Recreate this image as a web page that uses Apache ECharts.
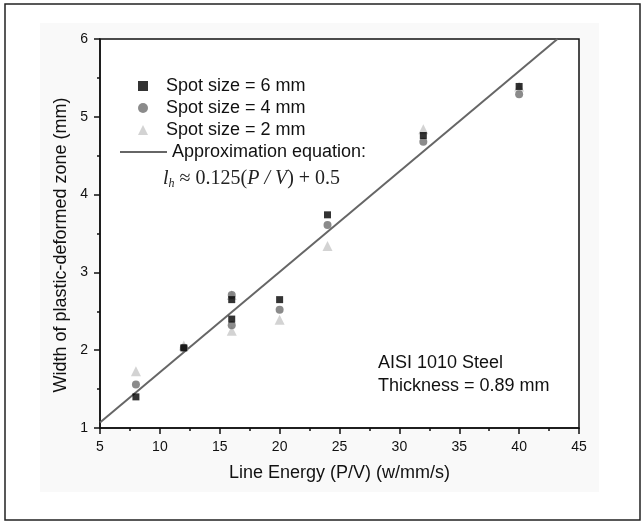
<!DOCTYPE html>
<html>
<head>
<meta charset="utf-8">
<script src="https://cdn.jsdelivr.net/npm/echarts@6/dist/echarts.min.js"></script>
<style>html,body{margin:0;padding:0;background:#fff;}#c{width:642px;height:522px;}</style>
</head>
<body>
<div id="c"></div>
<script>
const xValues = [8, 12, 16, 16, 20, 24, 32, 40];
const spot6 = [1.40, 2.03, 2.40, 2.65, 2.65, 3.74, 4.76, 5.39];
const spot4 = [1.56, 2.03, 2.32, 2.71, 2.52, 3.61, 4.68, 5.29];
const spot2 = [1.73, 2.06, 2.25, 2.71, 2.39, 3.34, 4.84, 5.39];
const fitX = [5, 43.2];
const fitY = [1.07, 6];
const xTicks = [5, 10, 15, 20, 25, 30, 35, 40, 45];
const yTicks = [1, 2, 3, 4, 5, 6];

const pair = (xs, ys) => xs.map((x, i) => [x, ys[i]]);
const font = '"Liberation Sans", Arial, sans-serif';
const serif = '"Liberation Serif", "Times New Roman", serif';

const chart = echarts.init(document.getElementById('c'));
chart.setOption({
  animation: false,
  backgroundColor: '#fff',
  graphic: [
    { type: 'rect', z: -10, shape: { x: 40, y: 23, width: 559, height: 469 }, style: { fill: '#f9f9f9' }, silent: true },
    { type: 'rect', z: -9, shape: { x: 5, y: 4, width: 635, height: 516 }, style: { fill: 'none', stroke: '#222', lineWidth: 1.5 }, silent: true },
    { type: 'text', x: 61, y: 245, rotation: Math.PI / 2, style: {
      text: 'Width of plastic-deformed zone (mm)', font: '18px ' + font, fill: '#111', align: 'center', verticalAlign: 'middle' } },
    { type: 'text', left: 163, top: 169, style: {
      rich: {
        i: { fontFamily: serif, fontStyle: 'italic', fontSize: 20, fill: '#222' },
        s: { fontFamily: serif, fontStyle: 'italic', fontSize: 12, fill: '#222', padding: [9, 0, 0, 0] },
        n: { fontFamily: serif, fontSize: 20, fill: '#222' }
      },
      text: '{i|l}{s|h}{n| ≈ 0.125(}{i|P / V}{n|) + 0.5}'
    } },
    { type: 'text', left: 378, top: 352, style: { text: 'AISI 1010 Steel\nThickness = 0.89 mm', font: '18px ' + font, fill: '#111', lineHeight: 23 } }
  ],
  grid: { left: 100, right: 63, top: 39, bottom: 94, show: true, borderColor: '#111', borderWidth: 1.5, backgroundColor: '#fff' },
  legend: [
    { data: ['Spot size = 6 mm', 'Spot size = 4 mm', 'Spot size = 2 mm'], orient: 'vertical', left: 133, top: 72,
      itemWidth: 10, itemHeight: 10, itemGap: 4, textStyle: { fontSize: 18, fontFamily: font, color: '#111', padding: [0, 0, 0, 13] } },
    { data: [{ name: 'Approximation equation:', icon: 'rect' }], orient: 'vertical', left: 115, top: 138, itemWidth: 47, itemHeight: 2,
      itemStyle: { color: '#666' }, textStyle: { fontSize: 18, fontFamily: font, color: '#111', padding: [0, 0, 0, 0] } }
  ],
  xAxis: {
    type: 'value', min: 5, max: 45, interval: 5,
    name: 'Line Energy (P/V) (w/mm/s)', nameLocation: 'middle', nameGap: 36,
    nameTextStyle: { fontSize: 18, fontFamily: font, color: '#111' },
    axisLine: { show: true, lineStyle: { color: '#111', width: 1.5 } },
    axisTick: { show: true, length: 6, lineStyle: { color: '#111', width: 1.5 } },
    minorTick: { show: true, splitNumber: 2, length: 3, lineStyle: { color: '#111', width: 1.5 } },
    axisLabel: { fontSize: 14, fontFamily: font, color: '#111', margin: 12, formatter: v => xTicks.includes(v) ? String(v) : '' },
    splitLine: { show: false }
  },
  yAxis: {
    type: 'value', min: 1, max: 6, interval: 1,
    axisLine: { show: true, lineStyle: { color: '#111', width: 1.5 } },
    axisTick: { show: true, length: 6, lineStyle: { color: '#111', width: 1.5 } },
    minorTick: { show: true, splitNumber: 2, length: 3, lineStyle: { color: '#111', width: 1.5 } },
    axisLabel: { fontSize: 14, fontFamily: font, color: '#111', margin: 12, formatter: v => yTicks.includes(v) ? String(v) : '' },
    splitLine: { show: false }
  },
  series: [
    { name: 'Approximation equation:', type: 'line', data: pair(fitX, fitY), symbol: 'none', z: 1,
      lineStyle: { color: '#666', width: 2 }, itemStyle: { color: '#666' } },
    { name: 'Spot size = 2 mm', type: 'scatter', data: pair(xValues, spot2), symbol: 'triangle', symbolSize: 10, z: 2,
      itemStyle: { color: '#c8c8c8' } },
    { name: 'Spot size = 4 mm', type: 'scatter', data: pair(xValues, spot4), symbol: 'circle', symbolSize: 8, z: 3,
      itemStyle: { color: '#6e6e6e' } },
    { name: 'Spot size = 6 mm', type: 'scatter', data: pair(xValues, spot6), symbol: 'rect', symbolSize: 7, z: 4,
      itemStyle: { color: '#000' } }
  ]
});
</script>
</body>
</html>
